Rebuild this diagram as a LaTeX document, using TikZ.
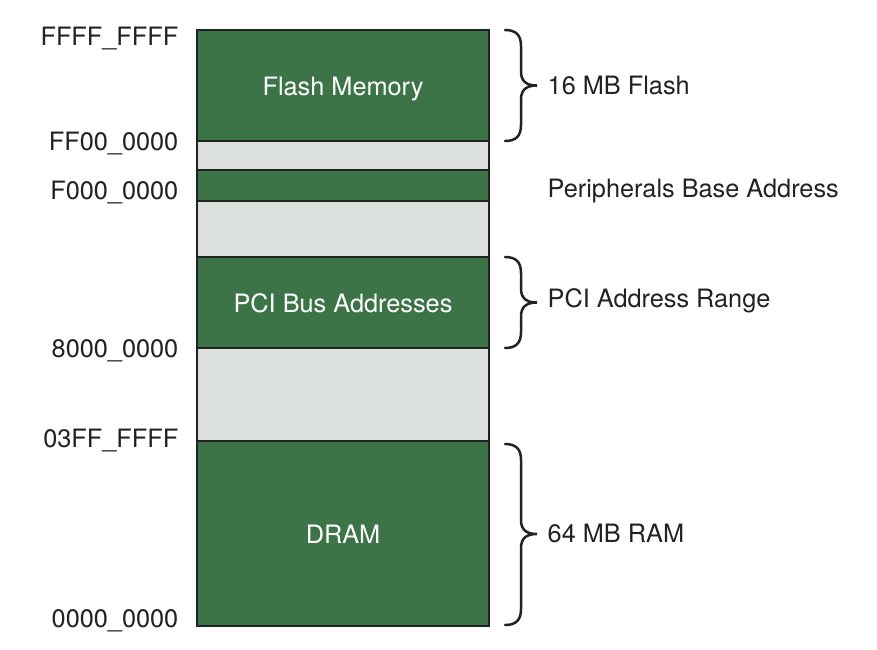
\documentclass[tikz,border=0pt]{standalone}
\usepackage{fontspec}
\setmainfont{TeX Gyre Heros}
\definecolor{memgreen}{HTML}{3C7448}
\definecolor{memgray}{HTML}{DBE0DD}
\definecolor{ink}{HTML}{222222}
\begin{document}
\begin{tikzpicture}[x=1pt,y=-1pt,
  region/.style={draw=ink, line width=2.2pt, anchor=north west, inner sep=0pt, outer sep=0pt,
    minimum width=292pt, text=white, text height=20pt, text depth=0pt,
    font=\fontsize{25.3}{30}\selectfont},
  used/.style={region, fill=memgreen},
  free/.style={region, fill=memgray},
  addr/.style={anchor=base east, inner sep=0pt, text=ink, font=\fontsize{25.3}{30}\selectfont},
  note/.style={anchor=base west, inner sep=0pt, text=ink, font=\fontsize{25.3}{30}\selectfont},
  bracestyle/.style={draw=ink, line width=2.5pt, line cap=round, line join=miter}]
\useasboundingbox (0,0) rectangle (877,649);
% memory regions
\node[used, minimum height=111pt] (flash) at (197,30) {Flash Memory};
\node[free, minimum height=29pt] (gap1) at (197,141) {};
\node[used, minimum height=31pt] (periph) at (197,170) {};
\node[free, minimum height=56pt] (gap2) at (197,201) {};
\node[used, minimum height=91pt] (pci) at (197,257) {PCI Bus Addresses};
\node[free, minimum height=93pt] (gap3) at (197,348) {};
\node[used, minimum height=185pt] (dram) at (197,441) {DRAM};
% address labels
\node[addr] (a1) at (178.5,45) {FFFF\_FFFF};
\node[addr] (a2) at (178.5,150) {FF00\_0000};
\node[addr] (a3) at (178.5,199) {F000\_0000};
\node[addr] (a4) at (178.5,357) {8000\_0000};
\node[addr] (a5) at (178.5,447) {03FF\_FFFF};
\node[addr] (a6) at (178.5,627) {0000\_0000};
% right notes
\node[note] (n1) at (547.5,94) {16 MB Flash};
\node[note] (n2) at (547.5,197) {Peripherals Base Address};
\node[note] (n3) at (547.5,307) {PCI Address Range};
\node[note] (n4) at (547.5,542) {64 MB RAM};
% braces
\draw[bracestyle] (505,30) .. controls (516,30) and (521,35) .. (521,46) -- (521,71.5)
  .. controls (521,81) and (526,85.5) .. (537,85.5)
  .. controls (526,85.5) and (521,90) .. (521,99.5) -- (521,125)
  .. controls (521,136) and (516,141) .. (505,141);
\draw[bracestyle] (505,257) .. controls (516,257) and (521,262) .. (521,273) -- (521,288.5)
  .. controls (521,298) and (526,302.5) .. (537,302.5)
  .. controls (526,302.5) and (521,307) .. (521,316.5) -- (521,332)
  .. controls (521,343) and (516,348) .. (505,348);
\draw[bracestyle] (505,444) .. controls (516,444) and (521,449) .. (521,460) -- (521,520)
  .. controls (521,529.5) and (526,534) .. (537,534)
  .. controls (526,534) and (521,538.5) .. (521,548) -- (521,609)
  .. controls (521,620) and (516,625) .. (505,625);
\end{tikzpicture}
\end{document}
